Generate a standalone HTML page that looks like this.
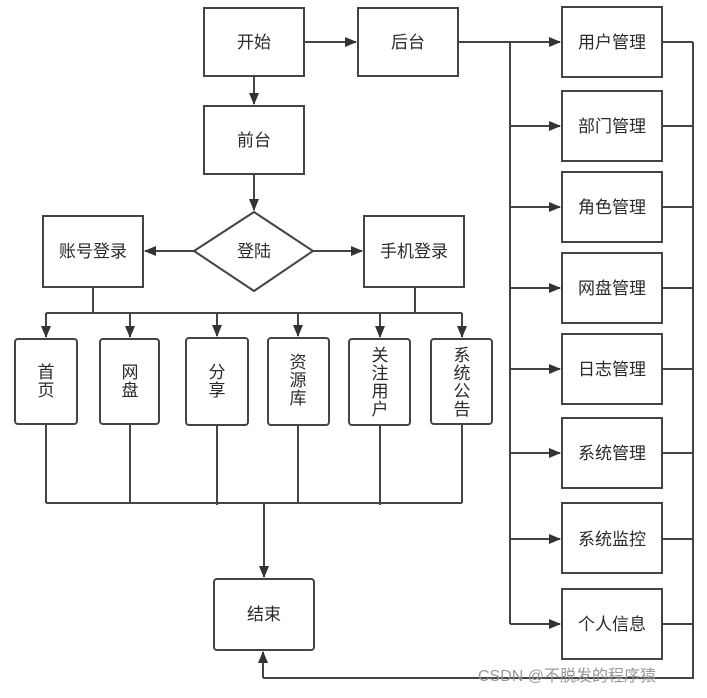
<!DOCTYPE html>
<html><head><meta charset="utf-8"><style>
html,body{margin:0;padding:0;background:#fff;}
svg text{font-family:"Liberation Sans","Noto Sans CJK SC",sans-serif;fill:#2a2a2a;}
</style></head><body>
<svg width="707" height="693" viewBox="0 0 707 693" xmlns="http://www.w3.org/2000/svg">
<defs><marker id="a" markerWidth="12" markerHeight="12" refX="11" refY="6" orient="auto" markerUnits="userSpaceOnUse"><path d="M0,1 L12,6 L0,11 z" fill="#333"/></marker></defs>
<g stroke="#444" stroke-width="2" fill="#fff">
<rect x="204" y="8" width="100" height="68"/>
<rect x="358" y="8" width="100" height="68"/>
<rect x="204" y="106" width="100" height="68"/>
<polygon points="194,251 254,212 313,251 254,291"/>
<rect x="43" y="216" width="100" height="71"/>
<rect x="364" y="216" width="100" height="71"/>
<rect x="15" y="339" width="62" height="85" rx="3"/>
<rect x="100" y="339" width="59" height="85" rx="3"/>
<rect x="186" y="338" width="62" height="87" rx="3"/>
<rect x="268" y="338" width="61" height="87" rx="3"/>
<rect x="349" y="339" width="61" height="86" rx="3"/>
<rect x="431" y="339" width="61" height="85" rx="3"/>
<rect x="214" y="579" width="100" height="71" rx="3"/>
<rect x="562" y="7" width="100" height="70"/>
<rect x="562" y="91" width="100" height="70"/>
<rect x="562" y="172" width="100" height="70"/>
<rect x="562" y="253" width="100" height="70"/>
<rect x="562" y="334" width="100" height="70"/>
<rect x="562" y="418" width="100" height="70"/>
<rect x="562" y="503" width="100" height="70"/>
<rect x="562" y="589" width="100" height="70"/>
</g>
<g stroke="#444" stroke-width="2" fill="none">
<line x1="304" y1="42" x2="356" y2="42" marker-end="url(#a)"/>
<line x1="254" y1="76" x2="254" y2="104" marker-end="url(#a)"/>
<line x1="254" y1="174" x2="254" y2="210" marker-end="url(#a)"/>
<line x1="194" y1="251" x2="145" y2="251" marker-end="url(#a)"/>
<line x1="313" y1="251" x2="362" y2="251" marker-end="url(#a)"/>
<polyline points="93,287 93,313"/>
<polyline points="415,287 415,313 462,313"/>
<line x1="46" y1="313" x2="462" y2="313"/>
<line x1="46" y1="313" x2="46" y2="337" marker-end="url(#a)"/>
<line x1="130" y1="313" x2="130" y2="337" marker-end="url(#a)"/>
<line x1="217" y1="313" x2="217" y2="336" marker-end="url(#a)"/>
<line x1="298" y1="313" x2="298" y2="336" marker-end="url(#a)"/>
<line x1="380" y1="313" x2="380" y2="337" marker-end="url(#a)"/>
<line x1="462" y1="313" x2="462" y2="337" marker-end="url(#a)"/>
<line x1="46" y1="424" x2="46" y2="503"/>
<line x1="130" y1="424" x2="130" y2="503"/>
<line x1="217" y1="425" x2="217" y2="505"/>
<line x1="298" y1="425" x2="298" y2="503"/>
<line x1="380" y1="425" x2="380" y2="505"/>
<line x1="462" y1="424" x2="462" y2="503"/>
<line x1="46" y1="503" x2="462" y2="503"/>
<line x1="264" y1="503" x2="264" y2="577" marker-end="url(#a)"/>
<line x1="458" y1="42" x2="560" y2="42" marker-end="url(#a)"/>
<line x1="510" y1="42" x2="510" y2="624"/>
<line x1="510" y1="126" x2="560" y2="126" marker-end="url(#a)"/>
<line x1="510" y1="207" x2="560" y2="207" marker-end="url(#a)"/>
<line x1="510" y1="288" x2="560" y2="288" marker-end="url(#a)"/>
<line x1="510" y1="369" x2="560" y2="369" marker-end="url(#a)"/>
<line x1="510" y1="453" x2="560" y2="453" marker-end="url(#a)"/>
<line x1="510" y1="539" x2="560" y2="539" marker-end="url(#a)"/>
<line x1="510" y1="624" x2="560" y2="624" marker-end="url(#a)"/>
<line x1="662" y1="42" x2="693" y2="42"/>
<line x1="662" y1="126" x2="693" y2="126"/>
<line x1="662" y1="207" x2="693" y2="207"/>
<line x1="662" y1="288" x2="693" y2="288"/>
<line x1="662" y1="369" x2="693" y2="369"/>
<line x1="662" y1="453" x2="693" y2="453"/>
<line x1="662" y1="539" x2="693" y2="539"/>
<line x1="662" y1="624" x2="693" y2="624"/>
<polyline points="693,42 693,678 263,678"/>
<line x1="263" y1="678" x2="263" y2="652" marker-end="url(#a)"/>
</g>
<g font-size="17" text-anchor="middle">
<text x="254" y="48">开始</text>
<text x="408" y="48">后台</text>
<text x="254" y="146">前台</text>
<text x="254" y="257">登陆</text>
<text x="93" y="257">账号登录</text>
<text x="414" y="257">手机登录</text>
<text x="264" y="620">结束</text>
<text x="612" y="48">用户管理</text>
<text x="612" y="132">部门管理</text>
<text x="612" y="213">角色管理</text>
<text x="612" y="294">网盘管理</text>
<text x="612" y="375">日志管理</text>
<text x="612" y="459">系统管理</text>
<text x="612" y="545">系统监控</text>
<text x="612" y="630">个人信息</text>
</g>
<g font-size="17" text-anchor="middle">
<text x="46" y="378">首</text><text x="46" y="396">页</text>
<text x="130" y="378">网</text><text x="130" y="396">盘</text>
<text x="217" y="378">分</text><text x="217" y="396">享</text>
<text x="298" y="368">资</text><text x="298" y="386">源</text><text x="298" y="404">库</text>
<text x="380" y="361">关</text><text x="380" y="379">注</text><text x="380" y="397">用</text><text x="380" y="415">户</text>
<text x="462" y="361">系</text><text x="462" y="379">统</text><text x="462" y="397">公</text><text x="462" y="415">告</text>
</g>
<text x="478" y="681" font-size="16" style="fill:#999">CSDN @不脱发的程序猿</text>
</svg>
</body></html>
